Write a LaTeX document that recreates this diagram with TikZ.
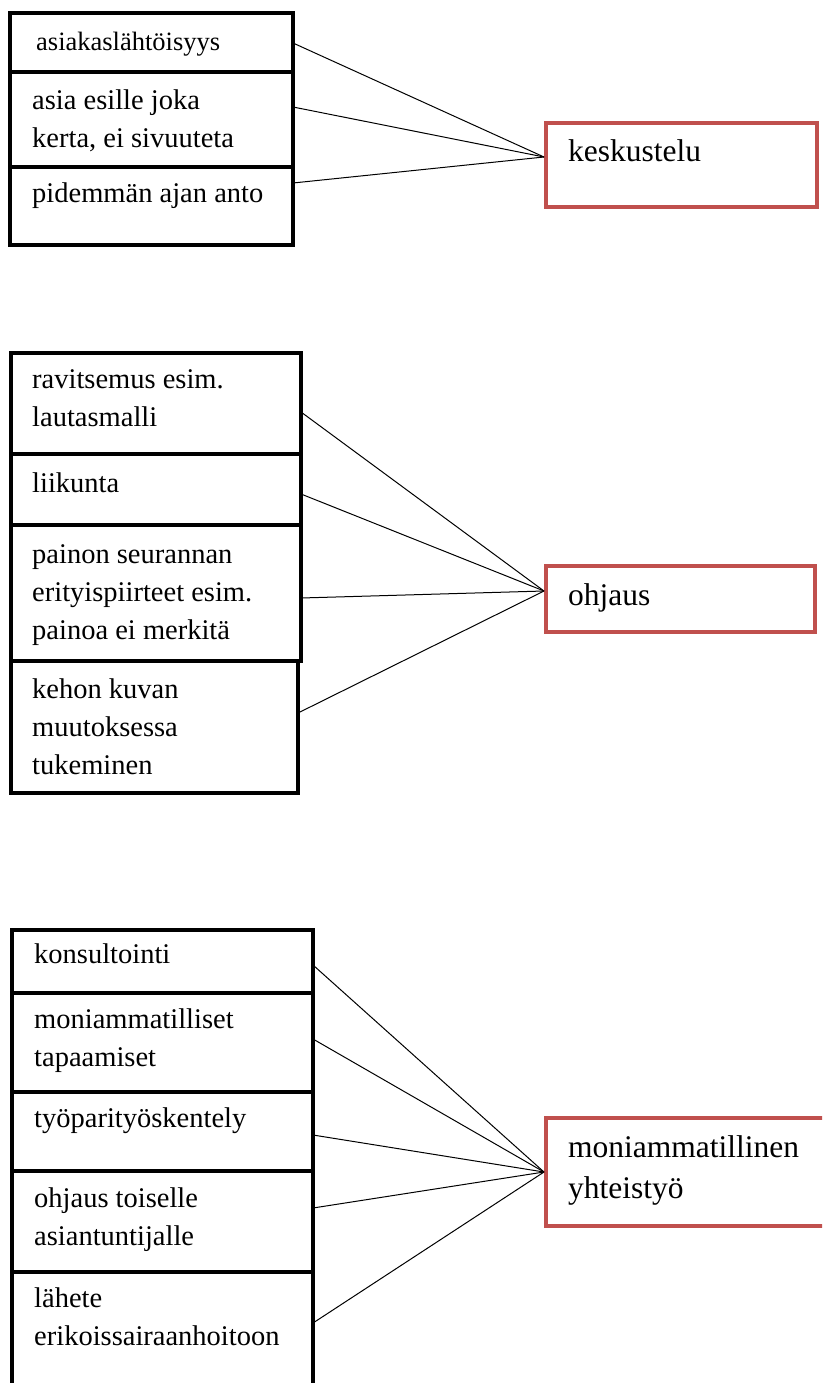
\documentclass[tikz,border=0pt]{standalone}
\usepackage{fontspec}
\setmainfont{Liberation Serif}
\usetikzlibrary{calc}
\definecolor{redline}{RGB}{192,80,77}
\begin{document}
\begin{tikzpicture}[x=1pt,y=-1pt,
  itembox/.style={draw=black, line width=4pt, rectangle, inner sep=0pt, outer sep=0pt, anchor=north west},
  topicbox/.style={draw=redline, line width=4pt, rectangle, inner sep=0pt, anchor=north west},
  txt/.style={anchor=base west, inner sep=0pt, font=\fontsize{28.5}{38}\selectfont},
  topictxt/.style={anchor=base west, inner sep=0pt, font=\fontsize{31.5}{41}\selectfont},
  link/.style={draw=black, line width=1pt}]
\clip (0,0) rectangle (822,1383);
\fill[white] (0,0) rectangle (822,1383);

% ---------- group 1 ----------
\node[itembox, minimum width=283pt, minimum height=59pt] (a1) at (10,13) {};
\node[itembox, minimum width=283pt, minimum height=95pt] (a2) at (10,72) {};
\node[itembox, minimum width=283pt, minimum height=78pt] (a3) at (10,167) {};
\node[topicbox, minimum width=271pt, minimum height=84pt] (k1) at (544,121) {};

\node[txt, font=\fontsize{26.5}{38}\selectfont] (ta1) at (36,51) {asiakaslähtöisyys};
\node[txt] (ta2) at (32,110) {\parbox[t]{260pt}{asia esille joka\\kerta, ei sivuuteta}};
\node[txt] (ta3) at (32,203) {pidemmän ajan anto};
\node[topictxt] (tk1) at (568,162) {keskustelu};

\coordinate (e1) at ($(k1.north west)+(0,36)$);
\draw[link] ($(a1.north east)+(0,30)$) -- (e1);
\draw[link] ($(a2.north east)+(0,35)$) -- (e1);
\draw[link] ($(a3.north east)+(0,16)$) -- (e1);

% ---------- group 2 ----------
\node[itembox, minimum width=290pt, minimum height=101pt] (b1) at (11,353) {};
\node[itembox, minimum width=290pt, minimum height=71pt] (b2) at (11,454) {};
\node[itembox, minimum width=290pt, minimum height=136pt] (b3) at (11,525) {};
\node[itembox, minimum width=287pt, minimum height=132pt] (b4) at (11,661) {};
\node[topicbox, minimum width=269pt, minimum height=66pt] (k2) at (544,564) {};

\node[txt] (tb1) at (32,388) {\parbox[t]{265pt}{ravitsemus esim.\\lautasmalli}};
\node[txt] (tb2) at (32,492) {liikunta};
\node[txt] (tb3) at (32,563) {\parbox[t]{265pt}{painon seurannan\\erityispiirteet esim.\\painoa ei merkitä}};
\node[txt] (tb4) at (32,698) {\parbox[t]{265pt}{kehon kuvan\\muutoksessa\\tukeminen}};
\node[topictxt] (tk2) at (568,605) {ohjaus};

\coordinate (e2) at ($(k2.north west)+(0,27)$);
\draw[link] ($(b1.north east)+(0,59)$) -- (e2);
\draw[link] ($(b2.north east)+(0,40)$) -- (e2);
\draw[link] ($(b3.north east)+(0,73)$) -- (e2);
\draw[link] ($(b4.north east)+(0,52)$) -- (e2);

% ---------- group 3 ----------
\node[itembox, minimum width=301pt, minimum height=63pt] (c1) at (12,930) {};
\node[itembox, minimum width=301pt, minimum height=99pt] (c2) at (12,993) {};
\node[itembox, minimum width=301pt, minimum height=79pt] (c3) at (12,1092) {};
\node[itembox, minimum width=301pt, minimum height=101pt] (c4) at (12,1171) {};
\node[itembox, minimum width=301pt, minimum height=140pt] (c5) at (12,1272) {};
\node[topicbox, minimum width=290pt, minimum height=108pt] (k3) at (544,1116) {};

\node[txt] (tc1) at (34,963) {konsultointi};
\node[txt] (tc2) at (34,1028) {\parbox[t]{275pt}{moniammatilliset\\tapaamiset}};
\node[txt] (tc3) at (34,1127) {työparityöskentely};
\node[txt] (tc4) at (34,1207) {\parbox[t]{275pt}{ohjaus toiselle\\asiantuntijalle}};
\node[txt] (tc5) at (34,1307) {\parbox[t]{275pt}{lähete\\erikoissairaanhoitoon}};
\node[topictxt] (tk3) at (568,1157) {\parbox[t]{250pt}{moniammatillinen\\yhteistyö}};

\coordinate (e3) at (k3.west);
\draw[link] ($(c1.north east)+(0,35)$) -- (e3);
\draw[link] ($(c2.north east)+(0,46)$) -- (e3);
\draw[link] ($(c3.north east)+(0,43)$) -- (e3);
\draw[link] ($(c4.north east)+(0,37)$) -- (e3);
\draw[link] ($(c5.north east)+(0,51)$) -- (e3);
\end{tikzpicture}
\end{document}
